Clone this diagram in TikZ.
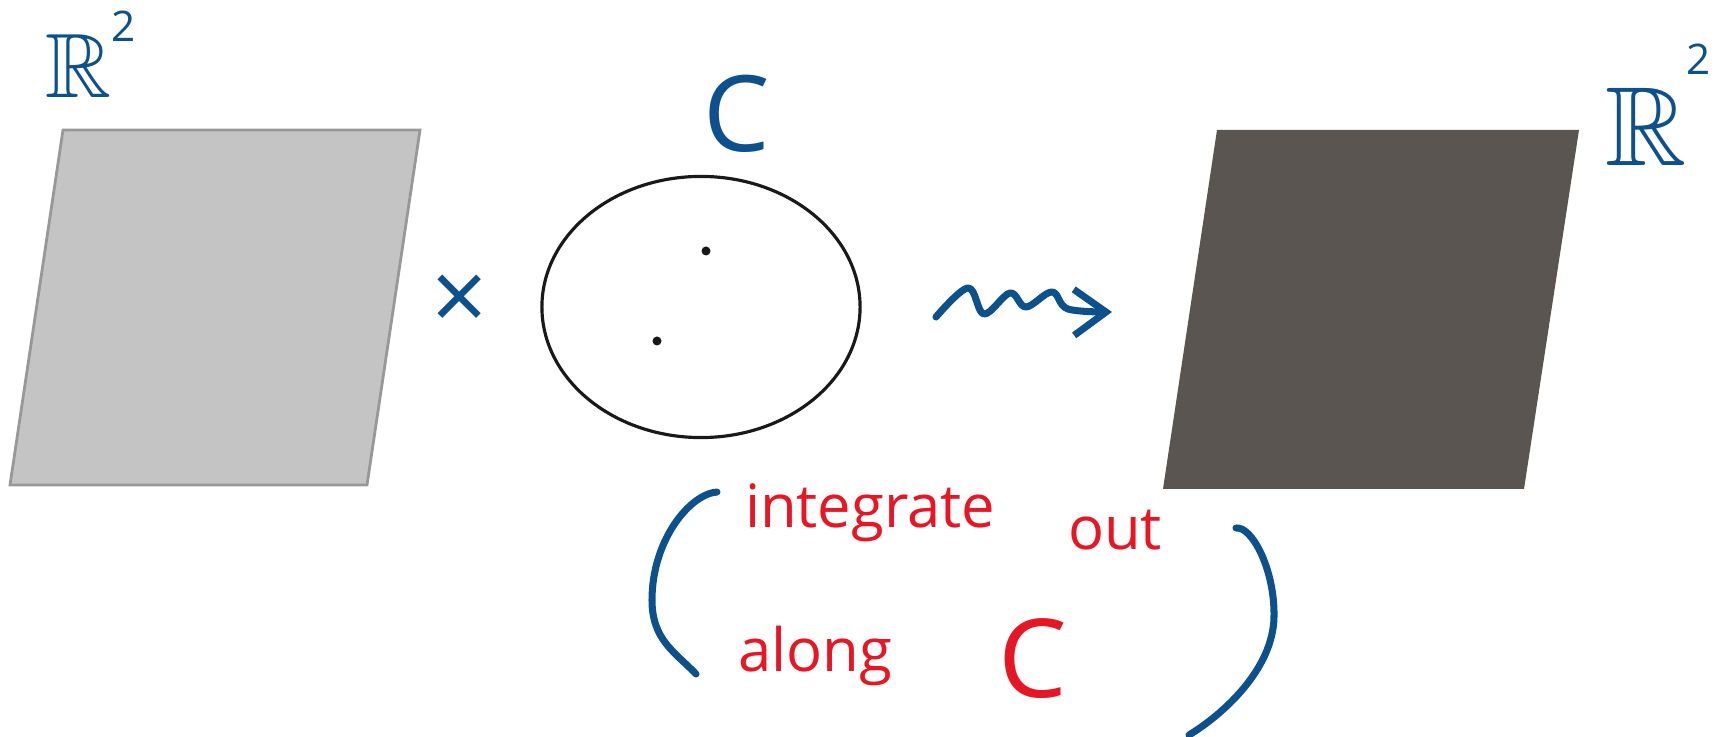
\documentclass[tikz,border=0pt]{standalone}
\usepackage{amssymb}
\usepackage{fontspec}
\setmainfont{Open Sans}
\usetikzlibrary{shapes.geometric, arrows.meta}
\definecolor{penblue}{RGB}{12,80,140}
\definecolor{penred}{RGB}{230,22,36}
\definecolor{planelight}{RGB}{196,196,196}
\definecolor{planeedge}{RGB}{152,152,152}
\definecolor{planedark}{RGB}{90,85,81}

\begin{document}
\begin{tikzpicture}[
            % Coordenadas en pixeles (y hacia abajo)
            x=0.01cm, y=-0.01cm,
            every node/.style={inner sep=0pt, outer sep=0pt},
            % Estilos
            bluelab/.style={text=penblue},
            redlab/.style={text=penred, anchor=base west, font=\fontsize{17}{20}\selectfont},
            pen/.style={draw=penblue, line width=2pt, line cap=round, line join=round},
            squiggle/.style={pen, -{Straight Barb[length=0.32cm, width=0.46cm]}}
        ]
            \useasboundingbox (0,0) rectangle (1723,737);

            % Planos
            \fill[planelight, draw=planeedge, line width=0.8pt] (63,130) -- (420,130) -- (367,485) -- (10,485) -- cycle;
            \fill[planedark] (1217,130) -- (1579,130) -- (1524,489) -- (1163,489) -- cycle;

            % Curva C con dos puntos
            \node (fiber) [ellipse, draw=black!90, line width=0.9pt, minimum width=3.18cm, minimum height=2.61cm] at (701,307) {};
            \node (dotA) [circle, fill=black!90, minimum size=0.09cm] at (706,251) {};
            \node (dotB) [circle, fill=black!90, minimum size=0.09cm] at (657,341) {};

            % Etiquetas
            \node (labdomain) [bluelab, anchor=base west, font=\fontsize{26}{30}\selectfont] at (45,98) {$\mathbb{R}$\raisebox{16pt}{\fontsize{12}{12}\selectfont 2}};
            \node (labtarget) [bluelab, anchor=base west, font=\fontsize{32}{36}\selectfont] at (1605,166) {$\mathbb{R}$\raisebox{26pt}{\fontsize{12}{12}\selectfont 2}};
            \node (labfiber) [bluelab, font=\fontsize{30}{34}\selectfont] at (737,114) {C};
            \node (times) [bluelab, font=\fontsize{28}{28}\selectfont] at (460,303) {×};

            % Flecha ondulada
            \coordinate (wigstart) at (936,317);
            \coordinate (wigend) at (1112,312);
            \draw [squiggle] plot[smooth, tension=0.6] coordinates {(wigstart) (968,288) (984,314) (1010,293) (1026,307) (1052,292) (1068,309) (wigend)};

            % Texto rojo
            \node (integ) [redlab] at (745,528) {integrate};
            \node (out) [redlab] at (1068,550) {out};
            \node (along) [redlab] at (738,672) {along};
            \node (alongC) [redlab, font=\fontsize{31}{34}\selectfont] at (998,698) {C};

            % Parentesis
            \draw [pen] (717,492) .. controls (690,494) and (652,540) .. (652,600) .. controls (652,640) and (675,652) .. (696,674);
            \draw [pen] (1236,528) .. controls (1252,526) and (1275,570) .. (1274,617) .. controls (1273,670) and (1222,715) .. (1189,735);

        \end{tikzpicture}
\end{document}
